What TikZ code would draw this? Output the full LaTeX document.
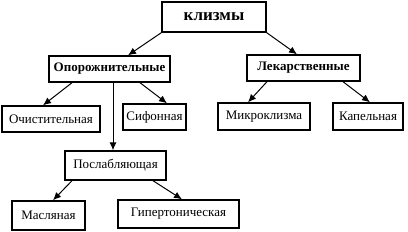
\documentclass[tikz,border=0pt]{standalone}
\usepackage{fontspec}
\setmainfont{Liberation Serif}
\usepackage{tikz}
\usetikzlibrary{arrows.meta}
\tikzset{
  box/.style={rectangle, draw=black, fill=white, line width=1.4pt, inner sep=0pt,
              align=center, font=\fontsize{13}{15}\selectfont},
  headbox/.style={box, font=\fontsize{13}{15}\selectfont\bfseries},
  topbox/.style={box, font=\fontsize{17}{19}\selectfont\bfseries},
  flow/.style={-{Latex[length=8pt,width=7pt]}, draw=black, line width=1pt},
}
\begin{document}
\begin{tikzpicture}[x=1pt,y=-1pt]
\useasboundingbox (0,0) rectangle (408,231);

\node[topbox,  minimum width=104pt, minimum height=30pt] (kl)    at (214,  17)   {клизмы};
\node[headbox, minimum width=121pt, minimum height=26pt] (opor)  at (109.5,69)   {Опорожнительные};
\node[headbox, minimum width=113pt, minimum height=26pt] (lek)   at (303.5,68)   {Лекарственные};
\node[box,     minimum width=98pt,  minimum height=26pt] (och)   at (51,   119)  {Очистительная};
\node[box,     minimum width=63pt,  minimum height=26pt] (sif)   at (154.5,117)  {Сифонная};
\node[box,     minimum width=92pt,  minimum height=27pt] (mikro) at (264,  116.5){Микроклизма};
\node[box,     minimum width=70pt,  minimum height=27pt] (kap)   at (368,  116.5){Капельная};
\node[box,     minimum width=101pt, minimum height=29pt] (posl)  at (115.5,165.5){Послабляющая};
\node[box,     minimum width=73pt,  minimum height=29pt] (masl)  at (48.5, 215.5){Масляная};
\node[box,     minimum width=121pt, minimum height=28pt] (gip)   at (178.5,214)  {Гипертоническая};

\draw[flow] (kl.south west) -- ([xshift=18.5pt]opor.north);
\draw[flow] (kl.south east) -- ([xshift=-6.5pt]lek.north);
\draw[flow] ([xshift=-37.5pt]opor.south) -- ([xshift=-8pt]och.north);
\draw[flow] ([xshift=30.5pt]opor.south) -- ([xshift=12.5pt]sif.north);
\draw[flow] ([xshift=3.5pt]opor.south) -- ([xshift=3.5pt]opor.south |- posl.north);
\draw[flow] ([xshift=-36.5pt]lek.south) -- ([xshift=-16pt]mikro.north);
\draw[flow] ([xshift=39.5pt]lek.south) -- ([xshift=2pt]kap.north);
\draw[flow] ([xshift=-43.5pt]posl.south) -- ([xshift=4.5pt]masl.north);
\draw[flow] ([xshift=37.5pt]posl.south) -- ([xshift=3.5pt]gip.north);
\end{tikzpicture}
\end{document}
